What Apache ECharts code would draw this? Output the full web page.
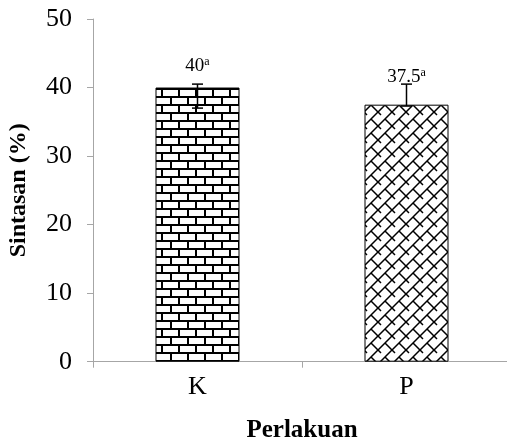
<!DOCTYPE html>
<html><head><meta charset="utf-8">
<script src="https://cdn.jsdelivr.net/npm/echarts@6/dist/echarts.min.js"></script>
<style>html,body{margin:0;padding:0;background:#fff}#c{width:507px;height:444px}</style>
</head><body><div id="c"></div>
<script>
// ---- data ----
const categories = ['K', 'P'];
const survival = [40, 37.5];
const errLow = [37.0, 37.3];
const errHigh = [40.5, 40.5];
const labelText = ['40', '37.5'];
const labelSup = ['a', 'a'];
const yMin = 0, yMax = 50, yStep = 10;
const xTitle = 'Perlakuan';
const yTitle = 'Sintasan (%)';

// ---- patterns ----
function brickPattern() {
  const w = 17, h = 16, c = document.createElement('canvas');
  c.width = w; c.height = h;
  const g = c.getContext('2d');
  g.fillStyle = '#fff'; g.fillRect(0, 0, w, h);
  g.fillStyle = '#000';
  g.fillRect(0, 0, w, 2); g.fillRect(0, 8, w, 2);
  g.fillRect(0, 0, 2, 8); g.fillRect(8, 8, 2, 8);
  return c;
}
function diagPattern() {
  const s = 14, c = document.createElement('canvas');
  c.width = s; c.height = s;
  const g = c.getContext('2d');
  g.fillStyle = '#fff'; g.fillRect(0, 0, s, s);
  g.strokeStyle = '#000'; g.lineWidth = 1.5;
  g.beginPath();
  for (const k of [0, s, 2 * s]) { g.moveTo(k + 3, -3); g.lineTo(k - s - 3, s + 3); }
  g.moveTo(s / 2, s / 2); g.lineTo(s + 3, s + 3);
  g.moveTo(-s / 2, -s / 2); g.lineTo(3, 3);
  g.stroke();
  return c;
}
const patterns = [brickPattern(), diagPattern()];
const labelDist = [12, 18];
const serif = 'Liberation Serif, Times New Roman, serif';
const axisGray = '#a6a6a6';

const chart = echarts.init(document.getElementById('c'));
chart.setOption({
  animation: false,
  backgroundColor: '#fff',
  grid: { left: 93, top: 19, width: 418, height: 342.7, containLabel: false, outerBoundsMode: 'none' },
  xAxis: {
    type: 'category', data: categories,
    name: xTitle, nameLocation: 'middle', nameGap: 56,
    nameTextStyle: { fontFamily: serif, fontSize: 25, fontWeight: 'bold', color: '#000' },
    axisLine: { lineStyle: { color: axisGray, width: 1 } },
    axisTick: { show: true, length: 6, lineStyle: { color: axisGray } },
    axisLabel: { fontFamily: serif, fontSize: 26, color: '#000', margin: 12 }
  },
  yAxis: {
    type: 'value', min: yMin, max: yMax, interval: yStep,
    name: yTitle, nameLocation: 'middle', nameGap: 62,
    nameTextStyle: { fontFamily: serif, fontSize: 24, fontWeight: 'bold', color: '#000' },
    axisLine: { show: true, lineStyle: { color: axisGray, width: 1 } },
    axisTick: { show: true, length: 6, lineStyle: { color: axisGray } },
    splitLine: { show: false },
    axisLabel: { fontFamily: serif, fontSize: 26, color: '#000', margin: 21 }
  },
  series: [
    {
      type: 'bar', barWidth: 84,
      data: survival.map((v, i) => ({
        value: v,
        itemStyle: { color: { image: patterns[i], repeat: 'repeat' }, borderColor: '#000', borderWidth: 1 },
        label: { distance: labelDist[i] }
      })),
      label: {
        show: true, position: 'top',
        formatter: p => `{v|${labelText[p.dataIndex]}}{s|${labelSup[p.dataIndex]}}`,
        rich: {
          v: { fontFamily: serif, fontSize: 19, color: '#000', lineHeight: 20 },
          s: { fontFamily: serif, fontSize: 12, color: '#000', verticalAlign: 'top', lineHeight: 12 }
        }
      },
      z: 2
    },
    {
      type: 'custom',
      data: categories.map((c, i) => [i, errLow[i], errHigh[i]]),
      encode: { x: 0, y: [1, 2] },
      renderItem(params, api) {
        const x = api.value(0);
        const lo = api.coord([x, api.value(1)]);
        const hi = api.coord([x, api.value(2)]);
        const hw = 5.5;
        const st = { stroke: '#000', lineWidth: 1.5 };
        return { type: 'group', children: [
          { type: 'line', shape: { x1: hi[0], y1: hi[1], x2: lo[0], y2: lo[1] }, style: st },
          { type: 'line', shape: { x1: hi[0] - hw, y1: hi[1], x2: hi[0] + hw, y2: hi[1] }, style: st },
          { type: 'line', shape: { x1: lo[0] - hw, y1: lo[1], x2: lo[0] + hw, y2: lo[1] }, style: st }
        ] };
      },
      z: 10
    }
  ]
});
</script>
</body></html>
